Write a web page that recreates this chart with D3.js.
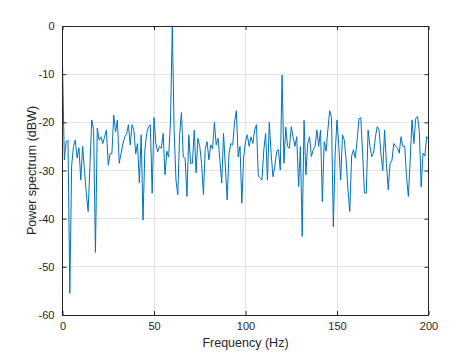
<!DOCTYPE html>
<html><head><meta charset="utf-8">
<script src="https://cdn.jsdelivr.net/npm/d3@7"></script>
<style>body{margin:0;background:#fff}svg{display:block}</style>
</head><body>
<script>
const freqStart = 0, freqStep = 1;
const powerDb = [
-7.7,-27.8,-24,-23.7,-55.5,-29,-25,-23.7,-27.4,-25.3,
-32,-25,-30,-34.7,-38.5,-29,-19.5,-21.5,-47,-21.2,
-23.7,-23,-24.4,-23,-21.6,-28.9,-26.5,-26.5,-18.5,-22,
-19.5,-28.5,-26.5,-24.5,-23,-22.5,-20.5,-24.7,-20.5,-21.6,
-26.5,-24.4,-32.6,-22.6,-40.3,-25.8,-22.3,-20.9,-20.5,-34.7,
-19,-24.4,-26.1,-25,-25.4,-22.3,-30.9,-26,-27.2,-20,
0,-21.6,-32,-35,-22.5,-18,-27.2,-27.5,-35.4,-22.6,
-28.5,-28.5,-21.6,-30.5,-23.3,-25,-28.5,-35,-25.4,-24,
-27.8,-24.7,-25.5,-20,-24.7,-23.3,-27.8,-32.6,-22.3,-29.3,
-36.1,-26.5,-24.4,-24.7,-20,-17.6,-27.2,-25,-36.8,-27.2,
-24,-22.6,-25,-23,-24.4,-21.6,-20.5,-31.2,-31.5,-32,
-25.7,-22.3,-32,-20,-26.4,-31.3,-29.2,-26,-25.7,-29.9,
-10.2,-28.5,-21,-25,-25.4,-20.9,-23,-25,-23,-33.4,
-25,-43.7,-19.6,-30.9,-24.4,-23,-27.1,-25.7,-25,-21.6,
-25,-21.6,-36.5,-24,-26,-21.6,-17.6,-19,-41.7,-26.4,
-19.5,-25,-32,-22.6,-23.7,-27.8,-34,-38.5,-27,-25.7,
-27.4,-23.7,-19.3,-19,-26.4,-34.7,-34.7,-21.6,-25,-27.1,
-26.4,-23,-20.9,-21.6,-26.4,-30,-21.6,-28.5,-34,-28.5,
-28,-24.4,-25,-25.3,-26.4,-23,-25,-25,-31.3,-35.4,
-27.8,-19.5,-24.4,-19.2,-18.8,-22,-33.4,-26.4,-27,-23,
-23.3
];
const xTicks = [0, 50, 100, 150, 200];
const yTicks = [0, -10, -20, -30, -40, -50, -60];
const xLabel = "Frequency (Hz)";
const yLabel = "Power spectrum (dBW)";

const W = 474, H = 355;
const m = {left: 62.5, right: 45.5, top: 26, bottom: 40};
const iw = W - m.left - m.right, ih = H - m.top - m.bottom;
const axisColor = "#262626", gridColor = "#e3e3e3";
const font = "Arial, 'Liberation Sans', Helvetica, sans-serif";

const svg = d3.select("body").append("svg").attr("width", W).attr("height", H);
const g = svg.append("g").attr("transform", `translate(${m.left},${m.top})`);

const x = d3.scaleLinear().domain([0, 200]).range([0, iw]);
const y = d3.scaleLinear().domain([-60, 0]).range([ih, 0]);

// grid
g.append("g").selectAll("line").data(xTicks).join("line")
  .attr("x1", d => x(d)).attr("x2", d => x(d)).attr("y1", 0).attr("y2", ih)
  .attr("stroke", gridColor).attr("stroke-width", 1).attr("shape-rendering", "crispEdges");
g.append("g").selectAll("line").data(yTicks).join("line")
  .attr("y1", d => y(d)).attr("y2", d => y(d)).attr("x1", 0).attr("x2", iw)
  .attr("stroke", gridColor).attr("stroke-width", 1).attr("shape-rendering", "crispEdges");

// data line
const data = powerDb.map((v, i) => ({f: freqStart + i * freqStep, p: v}));
g.append("path").datum(data)
  .attr("fill", "none").attr("stroke", "#0072BD").attr("stroke-width", 1)
  .attr("stroke-linejoin", "round")
  .attr("d", d3.line().x(d => x(d.f)).y(d => y(d.p)));

// axes (ticks inward, box)
function styleAxis(sel) {
  sel.select(".domain").remove();
  sel.selectAll(".tick line").attr("stroke", axisColor);
  sel.selectAll(".tick text").attr("fill", axisColor)
     .style("font-family", font).style("font-size", "11px");
}
const xB = g.append("g").attr("transform", `translate(0,${ih})`)
  .call(d3.axisBottom(x).tickValues(xTicks).tickSizeInner(-4).tickSizeOuter(0).tickPadding(7).tickFormat(d3.format("d")));
styleAxis(xB);
const xT = g.append("g")
  .call(d3.axisTop(x).tickValues(xTicks).tickSizeInner(-4).tickSizeOuter(0).tickFormat(""));
styleAxis(xT);
const yL = g.append("g")
  .call(d3.axisLeft(y).tickValues(yTicks).tickSizeInner(-4).tickSizeOuter(0).tickPadding(8).tickFormat(d => String(d)));
styleAxis(yL);
const yR = g.append("g").attr("transform", `translate(${iw},0)`)
  .call(d3.axisRight(y).tickValues(yTicks).tickSizeInner(-4).tickSizeOuter(0).tickFormat(""));
styleAxis(yR);

g.append("rect").attr("x", 0).attr("y", 0).attr("width", iw).attr("height", ih)
  .attr("fill", "none").attr("stroke", axisColor).attr("stroke-width", 1)
  .attr("shape-rendering", "crispEdges");

svg.append("text").attr("x", m.left + iw / 2).attr("y", 347)
  .attr("text-anchor", "middle").attr("fill", axisColor)
  .style("font-family", font).style("font-size", "12.5px").text(xLabel);
svg.append("text").attr("transform", `translate(36,${m.top + ih / 2}) rotate(-90)`)
  .attr("text-anchor", "middle").attr("fill", axisColor)
  .style("font-family", font).style("font-size", "12.5px").text(yLabel);
</script>
</body></html>
